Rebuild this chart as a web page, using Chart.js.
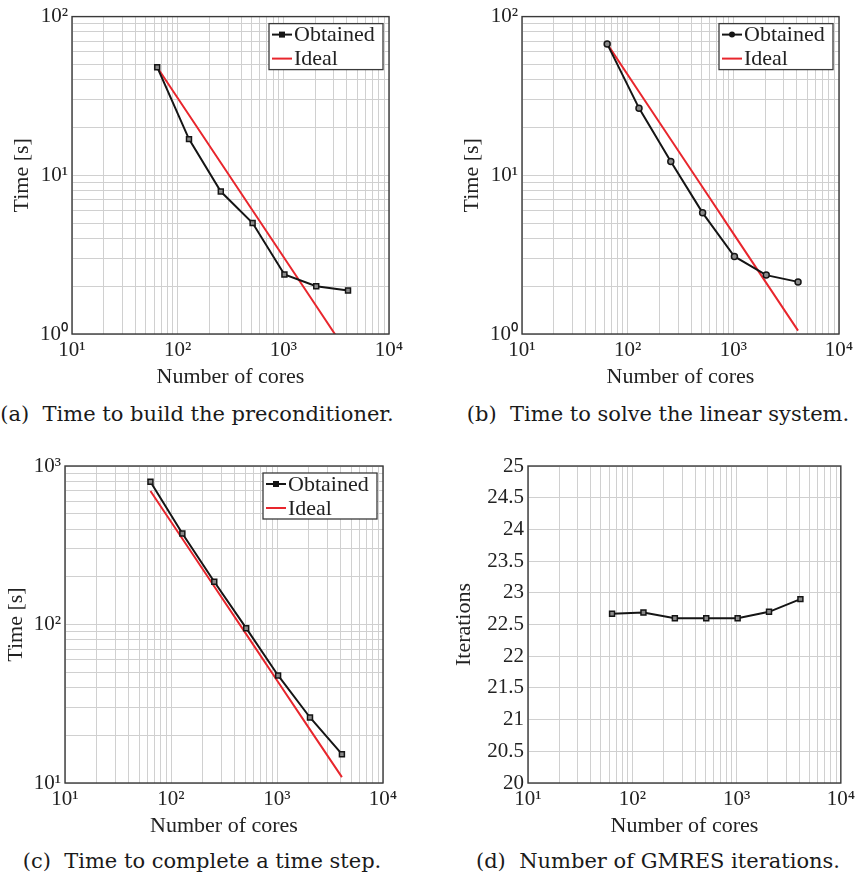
<!DOCTYPE html>
<html lang="en">
<head>
<meta charset="UTF-8">
<title>Strong scaling</title>
<script src="https://cdn.jsdelivr.net/npm/chart.js@4"></script>
<style>
    body {
        margin: 0;
        background: #ffffff;
        width: 859px;
        height: 877px;
        position: relative;
        overflow: hidden;
    }

    canvas {
        position: absolute;
    }

    .caption {
        position: absolute;
        font-family: 'DejaVu Serif', serif;
        font-size: 21px;
        line-height: 1;
        color: #1a1a1a;
        white-space: nowrap;
        transform: translateX(-50%);
    }
</style>
</head>
<body>

<canvas id="buildChart" width="430" height="395" style="left:0;top:0"></canvas>
<canvas id="solveChart" width="429" height="395" style="left:430px;top:0"></canvas>
<canvas id="stepChart" width="430" height="414" style="left:0;top:430px"></canvas>
<canvas id="gmresChart" width="429" height="414" style="left:430px;top:430px"></canvas>

<div class="caption" style="left:197px;top:404px">(a)&nbsp; Time to build the preconditioner.</div>
<div class="caption" style="left:658px;top:404px">(b)&nbsp; Time to solve the linear system.</div>
<div class="caption" style="left:202px;top:851px">(c)&nbsp; Time to complete a time step.</div>
<div class="caption" style="left:658px;top:851px">(d)&nbsp; Number of GMRES iterations.</div>

<script>
// dados
const cores = [64, 128, 256, 512, 1024, 2048, 4096];

const buildObtained = [48, 16.9, 7.9, 5.0, 2.37, 2.0, 1.88];
const buildIdeal = [48, 24, 12, 6, 3, 1.5, 0.75];

const solveObtained = [67.3, 26.5, 12.2, 5.8, 3.08, 2.35, 2.13];
const solveIdeal = [67.3, 33.6, 16.8, 8.4, 4.2, 2.1, 1.05];

const stepObtained = [796, 375, 186, 94.8, 47.7, 25.9, 15.2];
const stepIdeal = [695, 347.5, 173.8, 86.9, 43.4, 21.7, 10.9];

const gmresIterations = [22.67, 22.69, 22.6, 22.6, 22.6, 22.7, 22.9];

const iterTicks = [20, 20.5, 21, 21.5, 22, 22.5, 23, 23.5, 24, 24.5, 25];

const textColor = '#222';
const gridColor = '#d0d0d0';
const black = '#151515';
const red = '#e8262d';
const serif = "'Liberation Serif', serif";

Chart.defaults.font.family = serif;
Chart.defaults.color = textColor;

const sup = { '0': '⁰', '1': '¹', '2': '²', '3': '³', '4': '⁴' };

function powLabel(value) {
    const e = Math.log10(value);
    if (Math.abs(e - Math.round(e)) > 1e-9) return '';
    return '10' + String(Math.round(e)).split('').map(d => sup[d]).join('');
}

// 1..9 x 10^k, como as grades menores do pgfplots
function logTicks(scale) {
    const ticks = [];
    const lo = Math.round(Math.log10(scale.min));
    const hi = Math.round(Math.log10(scale.max));
    for (let e = lo; e < hi; e++) {
        for (let m = 1; m < 10; m++) ticks.push({ value: m * Math.pow(10, e) });
    }
    ticks.push({ value: scale.max });
    scale.ticks = ticks;
}

function points(ys) {
    return cores.map((c, i) => ({ x: c, y: ys[i] }));
}

function obtainedSet(ys, style) {
    return {
        label: 'Obtained',
        data: points(ys),
        borderColor: black,
        borderWidth: 2,
        pointStyle: style,
        pointRadius: style === 'circle' ? 3 : 3.5,
        pointBackgroundColor: '#8a8a8a',
        pointBorderColor: black,
        pointBorderWidth: 1.5
    };
}

function idealSet(ys) {
    return {
        label: 'Ideal',
        data: points(ys),
        borderColor: red,
        borderWidth: 2,
        pointRadius: 0
    };
}

function xScale() {
    return {
        type: 'logarithmic',
        min: 10,
        max: 10000,
        afterBuildTicks: logTicks,
        afterFit: s => { s.height = 61; },
        grid: { color: gridColor, drawTicks: false },
        border: { display: false },
        ticks: {
            callback: powLabel,
            autoSkip: false,
            maxRotation: 0,
            minRotation: 0,
            padding: 4,
            font: { size: 21 }
        },
        title: {
            display: true,
            text: 'Number of cores',
            font: { size: 22 },
            padding: { top: 0, bottom: 5 }
        }
    };
}

function yScale(opts) {
    const s = {
        type: opts.type,
        min: opts.min,
        max: opts.max,
        afterFit: sc => { sc.width = opts.width; },
        grid: { color: gridColor, drawTicks: false },
        border: { display: false },
        ticks: {
            autoSkip: false,
            padding: 4,
            font: { size: 21 }
        },
        title: {
            display: true,
            text: opts.title,
            font: { size: 22 },
            padding: { top: opts.titlePad, bottom: 0 }
        }
    };
    if (opts.type === 'logarithmic') {
        s.afterBuildTicks = logTicks;
        s.ticks.callback = powLabel;
    } else {
        s.afterBuildTicks = sc => { sc.ticks = iterTicks.map(v => ({ value: v })); };
        s.ticks.callback = v => String(v);
    }
    return s;
}

// moldura do eixo (caixa completa)
const frame = {
    id: 'frame',
    afterDatasetsDraw(chart) {
        const { ctx, chartArea: a } = chart;
        ctx.save();
        ctx.strokeStyle = '#3a3a3a';
        ctx.lineWidth = 1.4;
        ctx.strokeRect(a.left, a.top, a.right - a.left, a.bottom - a.top);
        ctx.restore();
    }
};

// legenda dentro da area, canto superior direito
const boxLegend = {
    id: 'boxLegend',
    afterDraw(chart, args, opts) {
        if (!opts.display) return;
        const { ctx, chartArea } = chart;
        const w = 114, h = 46;
        const x = chartArea.right - 6 - w;
        const y = chartArea.top + 7;
        ctx.save();
        ctx.fillStyle = '#ffffff';
        ctx.fillRect(x, y, w, h);
        ctx.strokeStyle = '#3a3a3a';
        ctx.lineWidth = 1.3;
        ctx.strokeRect(x, y, w, h);
        chart.data.datasets.forEach((ds, i) => {
            const cy = y + 11 + i * 24;
            ctx.strokeStyle = ds.borderColor;
            ctx.lineWidth = 2;
            ctx.beginPath();
            ctx.moveTo(x + 3, cy);
            ctx.lineTo(x + 23, cy);
            ctx.stroke();
            if (ds.pointRadius > 0) {
                ctx.fillStyle = black;
                if (ds.pointStyle === 'circle') {
                    ctx.beginPath();
                    ctx.arc(x + 13, cy, 3, 0, Math.PI * 2);
                    ctx.fill();
                } else {
                    ctx.fillRect(x + 10, cy - 3, 6, 6);
                }
            }
            ctx.fillStyle = textColor;
            ctx.font = '22px ' + serif;
            ctx.textBaseline = 'middle';
            ctx.textAlign = 'left';
            ctx.fillText(ds.label, x + 25, cy + 1);
        });
        ctx.restore();
    }
};

function makeChart(id, datasets, y, padding, legend) {
    return new Chart(document.getElementById(id), {
        type: 'line',
        data: { datasets: datasets },
        options: {
            responsive: false,
            animation: false,
            devicePixelRatio: 1,
            layout: { padding: padding },
            scales: { x: xScale(), y: yScale(y) },
            plugins: {
                legend: { display: false },
                tooltip: { enabled: false },
                boxLegend: { display: legend }
            }
        },
        plugins: [frame, boxLegend]
    });
}

makeChart('buildChart',
    [obtainedSet(buildObtained, 'rect'), idealSet(buildIdeal)],
    { type: 'logarithmic', min: 1, max: 100, title: 'Time [s]', width: 72, titlePad: 8.8 },
    { left: 0, top: 16, right: 41, bottom: 0 }, true);

makeChart('solveChart',
    [obtainedSet(solveObtained, 'circle'), idealSet(solveIdeal)],
    { type: 'logarithmic', min: 1, max: 100, title: 'Time [s]', width: 92, titlePad: 28.8 },
    { left: 0, top: 16, right: 20, bottom: 0 }, true);

makeChart('stepChart',
    [obtainedSet(stepObtained, 'rect'), idealSet(stepIdeal)],
    { type: 'logarithmic', min: 10, max: 1000, title: 'Time [s]', width: 65, titlePad: 2.8 },
    { left: 0, top: 36, right: 47, bottom: 0 }, true);

makeChart('gmresChart',
    [obtainedSet(gmresIterations, 'rect')],
    { type: 'linear', min: 20, max: 25, title: 'Iterations', width: 98, titlePad: 21.3 },
    { left: 0, top: 36, right: 14, bottom: 0 }, false);
</script>

</body>
</html>
